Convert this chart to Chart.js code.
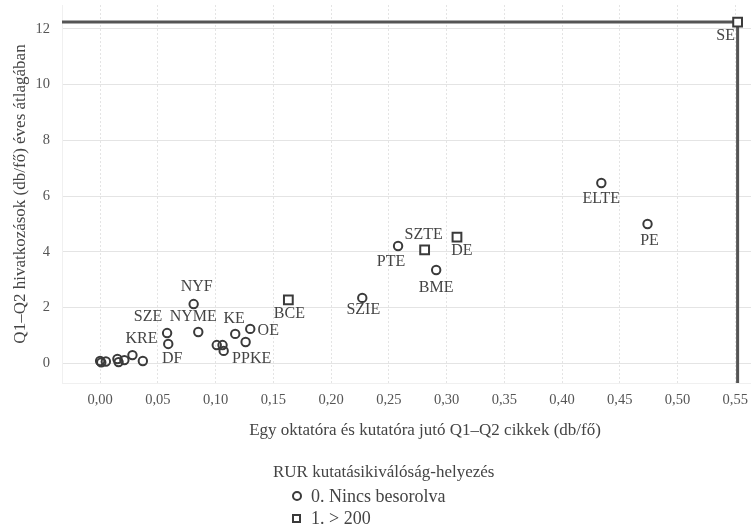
<!DOCTYPE html>
<html>
<head>
<meta charset="utf-8">
<script src="https://cdn.jsdelivr.net/npm/chart.js@4.4.1/dist/chart.umd.min.js"></script>
<style>
  body { margin: 0; background: #fff; }
  #wrap { position: relative; width: 751px; height: 525px; }
  #legend { position: absolute; left: 0; top: 0; width: 751px; height: 525px; pointer-events: none;
            font-family: 'Liberation Serif', serif; color: #444; font-size: 17px; }
  .lg { position: absolute; line-height: 20px; white-space: nowrap; }
  .item { font-size: 18px; }
  .xtitle { position: absolute; left: 425px; top: 420px; line-height: 20px; white-space: nowrap;
            font-size: 17px; transform: translateX(-50%); }
  .sym { position: absolute; box-sizing: border-box; border: 2px solid #3a3a3a; background: #fff; }
  .sym.circle { width: 10px; height: 10px; border-radius: 50%; }
  .sym.square { width: 9px; height: 9px; }
</style>
</head>
<body>
<div id="wrap">
  <canvas id="chart" width="751" height="525"></canvas>
  <div id="legend">
    <div class="xtitle">Egy oktatóra és kutatóra jutó Q1–Q2 cikkek (db/fő)</div>
    <div class="lg" style="left:273px; top:462px;">RUR kutatásikiválóság-helyezés</div>
    <div class="sym circle" style="left:292px; top:491px;"></div>
    <div class="lg item" style="left:311px; top:486px;">0. Nincs besorolva</div>
    <div class="sym square" style="left:292px; top:514px;"></div>
    <div class="lg item" style="left:311px; top:508px;">1. &gt; 200</div>
  </div>
</div>
<script>
// 0. Nincs besorolva (circles)
const circleNames = ['', '', '', '', '', '', 'KRE', '', 'SZE', 'DF', 'NYF', 'NYME', '', '', 'PPKE', 'KE', '', 'OE', 'SZIE', 'PTE', 'BME', 'ELTE', 'PE'];
const circleX = [0.000, 0.001, 0.005, 0.015, 0.016, 0.021, 0.028, 0.037, 0.058, 0.059, 0.081, 0.085, 0.101, 0.106, 0.107, 0.117, 0.126, 0.130, 0.227, 0.258, 0.291, 0.434, 0.474];
const circleY = [0.09, 0.04, 0.07, 0.16, 0.05, 0.12, 0.30, 0.09, 1.09, 0.70, 2.13, 1.13, 0.66, 0.66, 0.45, 1.06, 0.77, 1.24, 2.35, 4.21, 3.35, 6.47, 5.00];

// 1. > 200 (squares)
const squareNames = ['BCE', 'SZTE', 'DE', 'SE'];
const squareX = [0.163, 0.281, 0.309, 0.552];
const squareY = [2.28, 4.07, 4.53, 12.24];

const xMin = -0.033, xMax = 0.5636;
const yMin = -0.7, yMax = 12.85;

// label placement relative to the point (px)
const labelOffset = {
  KRE: [9, -16], SZE: [-19, -16], DF: [4, 15], NYF: [3, -17], NYME: [-5, -15],
  KE: [-1, -15], OE: [18, 2], PPKE: [28, 8], BCE: [1, 14], SZIE: [1, 12],
  PTE: [-7, 16], SZTE: [-1, -15], DE: [5, 14], BME: [0, 18], ELTE: [0, 16],
  PE: [2, 17], SE: [-12, 14]
};

const toPoints = (xs, ys) => xs.map((x, i) => ({ x: x, y: ys[i] }));

// bracket lines through the SE point
const seIdx = squareNames.indexOf('SE');
const seLine = [
  { x: xMin, y: squareY[seIdx] },
  { x: squareX[seIdx], y: squareY[seIdx] },
  { x: squareX[seIdx], y: yMin }
];

const pointLabels = {
  id: 'pointLabels',
  afterDatasetsDraw(chart) {
    const ctx = chart.ctx;
    ctx.save();
    ctx.font = '16px "Liberation Serif"';
    ctx.fillStyle = '#444';
    ctx.textAlign = 'center';
    ctx.textBaseline = 'middle';
    chart.data.datasets.forEach((ds, i) => {
      if (!ds.names) return;
      chart.getDatasetMeta(i).data.forEach((pt, j) => {
        const name = ds.names[j];
        if (!name) return;
        const off = labelOffset[name] || [0, 14];
        ctx.fillText(name, pt.x + off[0], pt.y + off[1]);
      });
    });
    ctx.restore();
  }
};

const comma = (v, d) => v.toFixed(d).replace('.', ',');
const tickFont = { family: 'Liberation Serif', size: 14.5 };

new Chart(document.getElementById('chart'), {
  type: 'scatter',
  data: {
    datasets: [
      {
        label: '0. Nincs besorolva',
        names: circleNames,
        data: toPoints(circleX, circleY),
        pointStyle: 'circle',
        pointRadius: 4.2,
        pointBorderWidth: 2,
        borderColor: '#3a3a3a',
        backgroundColor: 'rgba(255,255,255,0)',
        order: 1
      },
      {
        label: '1. > 200',
        names: squareNames,
        data: toPoints(squareX, squareY),
        pointStyle: 'rect',
        pointRadius: 6.2,
        pointBorderWidth: 2,
        borderColor: '#3a3a3a',
        backgroundColor: '#fff',
        order: 0
      },
      {
        type: 'line',
        data: seLine,
        borderColor: '#555',
        borderWidth: 3,
        pointRadius: 0,
        fill: false,
        order: 5
      }
    ]
  },
  options: {
    responsive: false,
    animation: false,
    layout: { autoPadding: false, padding: { left: 0, right: 0, top: 5, bottom: 80 } },
    plugins: {
      legend: { display: false },
      tooltip: { enabled: false }
    },
    scales: {
      x: {
        type: 'linear',
        min: xMin,
        max: xMax,
        grid: { color: '#e4e4e4', drawTicks: false },
        border: { display: true, color: '#f0f0f0', dash: [2, 2] },
        ticks: {
          stepSize: 0.05,
          includeBounds: false,
          padding: 8,
          color: '#555',
          font: tickFont,
          maxRotation: 0,
          callback: v => comma(v, 2)
        },
        title: { display: false },
        afterFit: s => { s.height = 62; s.paddingLeft = 0; s.paddingRight = 0; }
      },
      y: {
        type: 'linear',
        min: yMin,
        max: yMax,
        grid: { color: '#e4e4e4', drawTicks: false },
        border: { display: true, color: '#f0f0f0' },
        ticks: {
          stepSize: 2,
          includeBounds: false,
          padding: 12,
          color: '#555',
          font: tickFont,
          callback: v => comma(v, 0)
        },
        title: {
          display: true,
          text: 'Q1–Q2 hivatkozások (db/fő) éves átlagában',
          color: '#444',
          font: { family: 'Liberation Serif', size: 17 },
          padding: { top: 10, bottom: 0 }
        },
        afterFit: s => { s.width = 62; s.paddingTop = 0; s.paddingBottom = 0; }
      }
    }
  },
  plugins: [pointLabels]
});
</script>
</body>
</html>
